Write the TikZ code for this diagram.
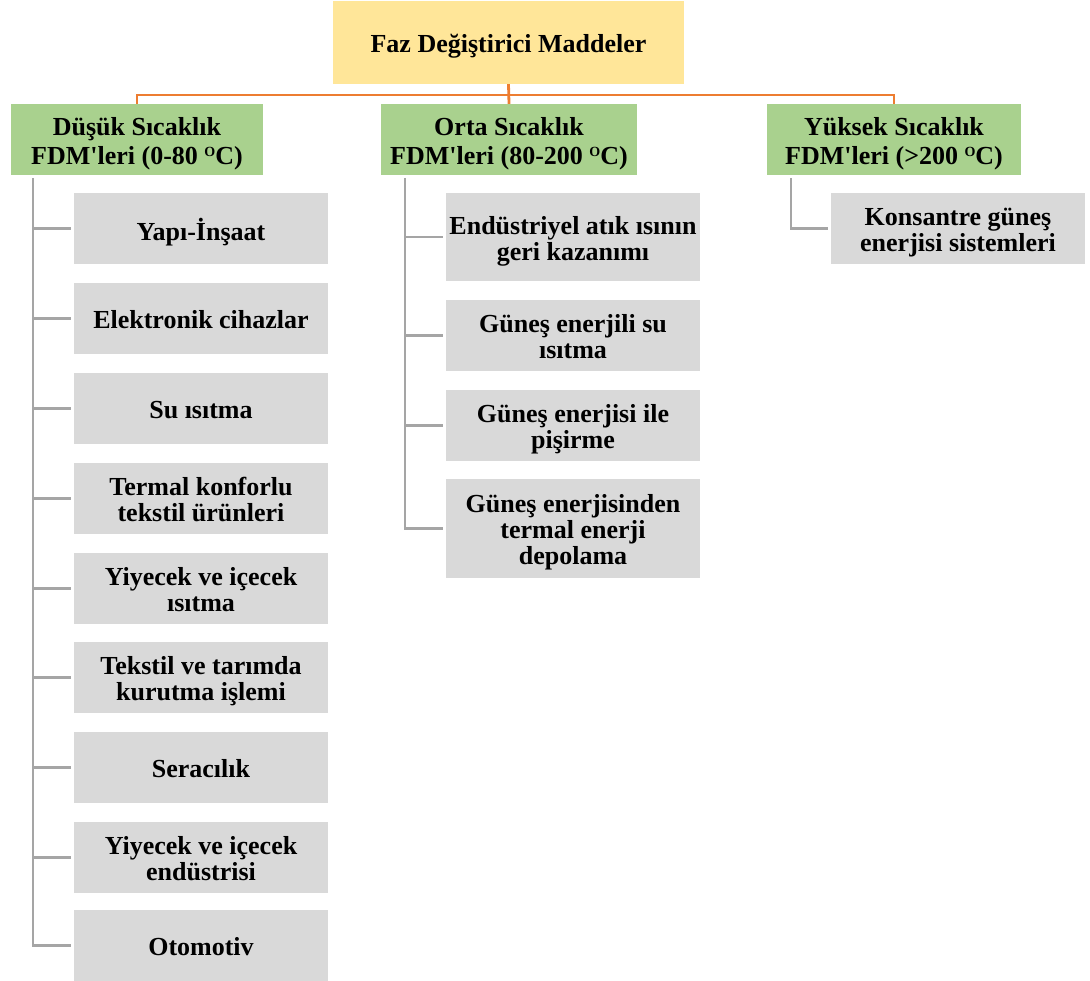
\documentclass[tikz,border=0pt]{standalone}
\usepackage{fontspec}
\setmainfont{Liberation Serif}
\definecolor{topfill}{HTML}{FFE699}
\definecolor{grnfill}{HTML}{A9D18E}
\definecolor{gryfill}{HTML}{D9D9D9}
\definecolor{orng}{HTML}{ED7D31}
\definecolor{gline}{HTML}{A5A5A5}
\newcommand\bxt[1]{\raisebox{-5pt}[\height][\depth]{\begin{tabular}{@{}c@{}}#1\end{tabular}}}
\newcommand\degO{\raisebox{8pt}{\fontsize{14}{14}\selectfont O}}
\tikzset{
  basebox/.style={rectangle, inner sep=0pt, align=center, text=black,
    font=\fontsize{26}{26}\selectfont\bfseries},
  topbox/.style={basebox, fill=topfill, minimum width=351pt, minimum height=83pt},
  catbox/.style={basebox, fill=grnfill, minimum height=71pt,
    font=\fontsize{26}{28.5}\selectfont\bfseries},
  leafbox/.style={basebox, fill=gryfill, minimum width=254pt, minimum height=71pt},
  orangeline/.style={draw=orng, line width=2.8pt},
  grayline/.style={draw=gline, line width=2.8pt},
}
\begin{document}
\begin{tikzpicture}[x=1pt,y=-1pt]
\useasboundingbox (0,0) rectangle (1090,981);
% top
\node[topbox] (top) at (508.5,42.5) {\bxt{Faz Değiştirici Maddeler}};
% categories
\node[catbox, minimum width=252pt] (dusuk) at (137,139.5) {\bxt{Düşük Sıcaklık\\FDM\textquotesingle leri (0-80 \degO C)}};
\node[catbox, minimum width=256pt] (orta) at (509,139.5) {\bxt{Orta Sıcaklık\\FDM\textquotesingle leri (80-200 \degO C)}};
\node[catbox, minimum width=254pt] (yuksek) at (894,139.5) {\bxt{Yüksek Sıcaklık\\FDM\textquotesingle leri (>200 \degO C)}};
% left leaves
\node[leafbox] (l1) at (201,228.5) {\bxt{Yapı-İnşaat}};
\node[leafbox] (l2) at (201,318.5) {\bxt{Elektronik cihazlar}};
\node[leafbox] (l3) at (201,408.5) {\bxt{Su ısıtma}};
\node[leafbox] (l4) at (201,498.5) {\bxt{Termal konforlu\\tekstil ürünleri}};
\node[leafbox] (l5) at (201,588.5) {\bxt{Yiyecek ve içecek\\ısıtma}};
\node[leafbox] (l6) at (201,677.5) {\bxt{Tekstil ve tarımda\\kurutma işlemi}};
\node[leafbox] (l7) at (201,767.5) {\bxt{Seracılık}};
\node[leafbox] (l8) at (201,857.5) {\bxt{Yiyecek ve içecek\\endüstrisi}};
\node[leafbox] (l9) at (201,945.5) {\bxt{Otomotiv}};
% middle leaves
\node[leafbox, minimum height=88pt] (m1) at (573,237) {\bxt{Endüstriyel atık ısının\\geri kazanımı}};
\node[leafbox] (m2) at (573,335.5) {\bxt{Güneş enerjili su\\ısıtma}};
\node[leafbox] (m3) at (573,425.5) {\bxt{Güneş enerjisi ile\\pişirme}};
\node[leafbox, minimum height=99pt] (m4) at (573,528.5) {\bxt{Güneş enerjisinden\\termal enerji\\depolama}};
% right leaf
\node[leafbox] (r1) at (958,228.5) {\bxt{Konsantre güneş\\enerjisi sistemleri}};
% orange connectors
\coordinate (bus) at (508.5,95);
\draw[orangeline] (top.south) -- (orta.north);
\draw[orangeline] (dusuk.north) |- (bus) -| (yuksek.north);
% gray trunks
\coordinate (tl) at (33,178);
\coordinate (tm) at (405,178);
\coordinate (tr) at (791,178);
\draw[grayline] (tl) |- ([xshift=-3pt]l9.west);
\foreach \n in {l1,l2,l3,l4,l5,l6,l7,l8}
  \draw[grayline] (tl |- \n.west) -- ([xshift=-3pt]\n.west);
\draw[grayline] (tm) |- ([xshift=-3pt]m4.west);
\foreach \n in {m1,m2,m3}
  \draw[grayline] (tm |- \n.west) -- ([xshift=-3pt]\n.west);
\draw[grayline] (tr) |- ([xshift=-3pt]r1.west);
\end{tikzpicture}
\end{document}
